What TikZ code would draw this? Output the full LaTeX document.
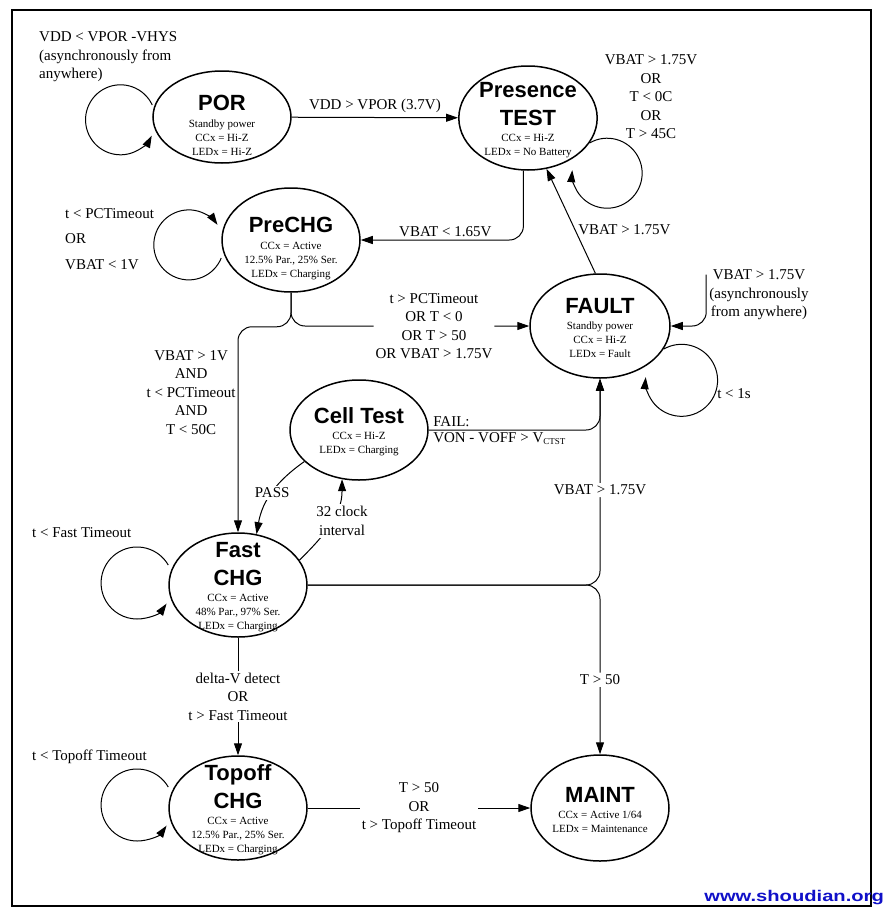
\documentclass[tikz,border=0pt]{standalone}
\usepackage{fontspec}
\setmainfont{Liberation Serif}
\newfontfamily\headfont{Liberation Sans}
\newfontfamily\wmfont[FakeStretch=1.3]{Liberation Sans}
\usepackage{tikz}
\usetikzlibrary{shapes.geometric, arrows.meta, positioning, calc}
\definecolor{wmblue}{RGB}{16,16,200}
\newcommand{\sttitle}{\fontsize{22}{27}\selectfont\headfont\bfseries\strut}
\newcommand{\sttitlelow}{\sttitle\rule{0pt}{32pt}}
\newcommand{\stline}{\fontsize{11}{14}\selectfont\rmfamily\mdseries}
\newcommand{\condfont}{\fontsize{15}{18.5}\selectfont}
\tikzstyle{chgstate} = [ellipse, draw=black, line width=1.5pt, minimum width=138pt, minimum height=104pt, inner xsep=0pt, inner ysep=-22pt, align=center, font=\stline]
\tikzstyle{cond} = [font=\condfont, inner sep=1pt, align=center]
\tikzstyle{oncond} = [cond, fill=white, inner sep=2pt]
\tikzstyle{arrow} = [line width=1pt, -{Triangle[length=12pt,width=8pt]}]

\begin{document}
\begin{tikzpicture}[x=1pt, y=-1pt]
\useasboundingbox (0,0) rectangle (887,910);
\draw[line width=2.8pt] (12,10) rectangle (871,906);

% states
\node (por) [chgstate, minimum height=92pt] at (222,117) {\sttitlelow POR\\\stline Standby power\\\stline CCx = Hi-Z\\\stline LEDx = Hi-Z};
\node (pres) [chgstate, minimum width=132pt] at (528,118) {\sttitle Presence\\\sttitle TEST\\\stline CCx = Hi-Z\\\stline LEDx = No Battery};
\node (pre) [chgstate] at (291,240) {\sttitlelow PreCHG\\\stline CCx = Active\\\stline 12.5\% Par., 25\% Ser.\\\stline LEDx = Charging};
\node (fault) [chgstate, minimum width=140pt] at (600,326) {\sttitle FAULT\\\stline Standby power\\\stline CCx = Hi-Z\\\stline LEDx = Fault};
\node (cell) [chgstate, minimum height=100pt] at (359,430) {\sttitle Cell Test\\\stline CCx = Hi-Z\\\stline LEDx = Charging};
\node (fast) [chgstate] at (238,585) {\sttitle Fast\\\sttitle CHG\\\stline CCx = Active\\\stline 48\% Par., 97\% Ser.\\\stline LEDx = Charging};
\node (topoff) [chgstate] at (238,808) {\sttitle Topoff\\\sttitle CHG\\\stline CCx = Active\\\stline 12.5\% Par., 25\% Ser.\\\stline LEDx = Charging};
\node (maint) [chgstate, minimum height=106pt] at (600,808) {\sttitle MAINT\\\stline CCx = Active 1/64\\\stline LEDx = Maintenance};

% loop conditions
\node (porlbl) [cond, align=left, anchor=west] at (38,57) {VDD < VPOR -VHYS\\(asynchronously from\\anywhere)};
\node (preslbl) [cond] at (651,97) {VBAT > 1.75V\\OR\\T < 0C\\OR\\T > 45C};
\node (prelbl) [cond, align=left, anchor=west] at (64,239) {t < PCTimeout\\[7pt] OR\\[7pt]VBAT < 1V};
\node (faultsrc) [cond, inner sep=3pt] at (759,295) {VBAT > 1.75V\\(asynchronously\\from anywhere)};
\node (faultlbl) [cond] at (734,394) {t < 1s};
\node (fastlbl) [cond, anchor=west] at (31,533) {t < Fast Timeout};
\node (topofflbl) [cond, anchor=west] at (31,757) {t < Topoff Timeout};

% transitions
\draw [arrow] (por) -- node[cond, above=3pt] {VDD > VPOR (3.7V)} (pres);
\draw [arrow] (por.west) ++(0,-12) arc[start angle=25, end angle=333, radius=35pt];
\draw [arrow] (pres.-22) arc[start angle=120, end angle=-185, radius=35pt];
\draw [arrow, rounded corners=14pt] (pres.-95) |- node[cond, above=2pt, pos=0.74] {VBAT < 1.65V} (pre.east);
\draw [arrow] (pre.west) ++(0,18) arc[start angle=-22, end angle=-325, radius=35pt];
\draw [arrow] (fault.95) -- node[cond, right=2pt, pos=0.42] {VBAT > 1.75V} (pres.-70);
\draw [arrow, rounded corners=14pt] ([yshift=-8pt]faultsrc.north west) |- (fault.east);
\draw [arrow] (fault.-20) arc[start angle=120, end angle=-185, radius=36pt];
\draw [arrow, rounded corners=14pt] (pre.south) |- node[oncond, pos=0.8] {t > PCTimeout\\OR T < 0\\OR T > 50\\OR VBAT > 1.75V} (fault.west);
\draw [arrow, rounded corners=14pt] (pre.south) -- ++(0,34) -| node[cond, left=1pt, pos=0.66] {VBAT > 1V\\AND\\t < PCTimeout\\AND\\T < 50C} (fast.north);
\draw [arrow, rounded corners=14pt] (cell.east) -| node[cond, pos=0, anchor=south west, xshift=3pt, yshift=2pt] {FAIL:} node[cond, pos=0, anchor=north west, xshift=3pt, yshift=-1pt] {VON - VOFF > V\raisebox{-2pt}{\fontsize{9}{9}\selectfont CTST}} (fault.south);
\draw [arrow] (cell.-150) to[out=215, in=80] node[oncond] {PASS} (fast.70);
\draw [arrow] (fast.22) to[out=45, in=-90] (cell.-109);
\node (clklbl) [oncond] at (342,521) {32 clock\\interval};
\draw [arrow, rounded corners=14pt] (fast.east) -| node[oncond, pos=0.73] {VBAT > 1.75V} (fault.south);
\draw [arrow, rounded corners=14pt] (fast.east) -| node[oncond, pos=0.78] {T > 50} (maint.north);
\draw [arrow] (fast.west) ++(0,-20) arc[start angle=30, end angle=325, radius=36pt];
\draw [arrow] (fast) -- node[oncond] {delta-V detect\\OR\\t > Fast Timeout} (topoff);
\draw [arrow] (topoff.west) ++(0,-21) arc[start angle=30, end angle=325, radius=36pt];
\draw [arrow] (topoff) -- node[oncond] {T > 50\\OR\\t > Topoff Timeout} (maint);

\node (wm) [font=\wmfont\bfseries\fontsize{15.5}{16}\selectfont, text=wmblue, inner sep=0pt, anchor=east] at (884,898) {www.shoudian.org};
\end{tikzpicture}
\end{document}
